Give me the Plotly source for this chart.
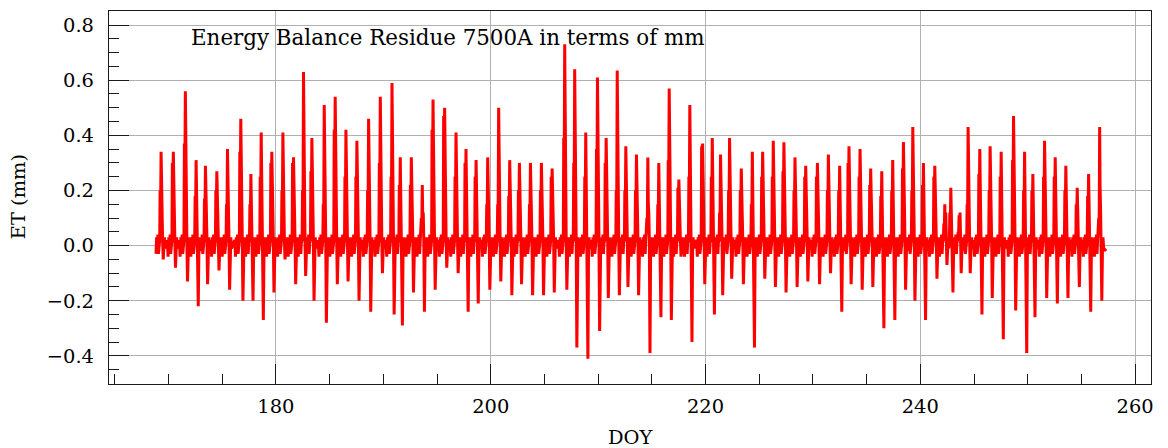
import plotly.graph_objects as go

# ---- data (DOY of daily residue spike, values in mm) ----
peak_doy = [169.31, 170.45, 171.57, 172.57, 173.44, 174.50, 175.49, 176.73, 177.67, 178.63,
            179.62, 180.65, 181.64, 182.57, 183.35, 184.50, 185.52, 186.52, 187.54, 188.63,
            189.72, 190.81, 191.58, 192.61, 193.63, 194.63, 195.71, 196.77, 197.70, 198.64,
            199.72, 200.74, 201.77, 202.67, 203.70, 204.72, 205.72, 206.89, 207.82, 208.85,
            209.94, 210.75, 211.78, 212.58, 213.57, 214.63, 215.65, 216.62, 217.52, 218.54,
            219.73, 220.63, 221.40, 222.24, 223.33, 224.36, 225.32, 226.31, 227.30, 228.33,
            229.33, 230.42, 231.44, 232.49, 233.36, 234.39, 235.38, 236.41, 237.43, 238.43,
            239.30, 240.29, 241.35, 242.28, 242.84, 243.61, 244.45, 245.54, 246.50, 247.53,
            248.68, 249.71, 250.48, 251.57, 252.56, 253.55, 254.61, 255.67, 256.70]
peak_val = [0.34, 0.34, 0.56, 0.31, 0.29, 0.27, 0.35, 0.46, 0.26, 0.41,
            0.34, 0.41, 0.32, 0.63, 0.39, 0.51, 0.54, 0.42, 0.38, 0.46,
            0.54, 0.59, 0.32, 0.32, 0.22, 0.53, 0.50, 0.41, 0.35, 0.31,
            0.32, 0.50, 0.31, 0.30, 0.30, 0.30, 0.28, 0.73, 0.64, 0.41,
            0.61, 0.39, 0.635, 0.36, 0.33, 0.32, 0.30, 0.57, 0.24, 0.51,
            0.37, 0.39, 0.33, 0.39, 0.28, 0.34, 0.34, 0.38, 0.375, 0.32,
            0.29, 0.30, 0.33, 0.29, 0.36, 0.35, 0.28, 0.27, 0.31, 0.376,
            0.43, 0.30, 0.29, 0.15, 0.21, 0.11, 0.43, 0.35, 0.36, 0.34,
            0.47, 0.34, 0.26, 0.38, 0.32, 0.29, 0.21, 0.26, 0.43]
shoulder_val = [0.20, 0.30, 0.37, 0.18, 0.17, 0.20, 0.15, 0.34, 0.15, 0.25,
                0.30, 0.20, 0.30, 0.20, 0.27, 0.15, 0.42, 0.25, 0.25, 0.20,
                0.30, 0.25, 0.22, 0.22, 0.10, 0.42, 0.47, 0.25, 0.30, 0.25,
                0.15, 0.15, 0.18, 0.20, 0.15, 0.20, 0.25, 0.39, 0.30, 0.25,
                0.35, 0.30, 0.20, 0.20, 0.20, 0.10, 0.15, 0.31, 0.21, 0.25,
                0.36, 0.25, 0.12, 0.20, 0.20, 0.15, 0.25, 0.25, 0.27, 0.20,
                0.25, 0.25, 0.20, 0.20, 0.30, 0.25, 0.22, 0.18, 0.20, 0.28,
                0.20, 0.22, 0.25, 0.08, 0.12, 0.05, 0.15, 0.26, 0.20, 0.25,
                0.31, 0.20, 0.20, 0.25, 0.25, 0.20, 0.15, 0.18, 0.10]
trough_val = [-0.05, -0.08, -0.13, -0.22, -0.14, -0.09, -0.16, -0.20, -0.20, -0.27,
              -0.17, -0.05, -0.14, -0.11, -0.20, -0.28, -0.14, -0.13, -0.20, -0.24,
              -0.10, -0.25, -0.29, -0.17, -0.24, -0.16, -0.08, -0.10, -0.24, -0.21,
              -0.16, -0.13, -0.18, -0.14, -0.18, -0.18, -0.17, -0.16, -0.37, -0.41,
              -0.31, -0.19, -0.18, -0.15, -0.18, -0.39, -0.26, -0.27, -0.04, -0.35,
              -0.14, -0.25, -0.18, -0.12, -0.14, -0.37, -0.12, -0.15, -0.17, -0.15,
              -0.13, -0.14, -0.10, -0.24, -0.14, -0.16, -0.15, -0.30, -0.27, -0.16,
              -0.20, -0.27, -0.12, -0.07, -0.17, -0.10, -0.10, -0.25, -0.19, -0.34,
              -0.235, -0.39, -0.26, -0.19, -0.21, -0.19, -0.15, -0.24, -0.20]
night_vals = [0.02, -0.04, 0.03, -0.02, 0.04, -0.03, 0.01]
start_doy, start_val = 168.84, -0.03
end_doy, end_val = 257.30, -0.02

x_ticks = [180, 200, 220, 240, 260]
y_ticks = [-0.4, -0.2, 0.0, 0.2, 0.4, 0.6, 0.8]
y_ticktext = ["\u22120.4", "\u22120.2", "0.0", "0.2", "0.4", "0.6", "0.8"]

# ---- build the sub-daily trace from the daily values ----
night_off = [-0.56, -0.49, -0.42, -0.36, -0.30, -0.25, -0.20]
x, y = [start_doy], [start_val]
for p, pk, sh, tr in zip(peak_doy, peak_val, shoulder_val, trough_val):
    for o, v in zip(night_off, night_vals):
        if p + o > x[-1] + 0.02:
            x.append(p + o)
            y.append(v)
    x += [p - 0.13, p - 0.09, p - 0.05, p, p + 0.04, p + 0.09, p + 0.14,
          p + 0.20, p + 0.26, p + 0.31, p + 0.37]
    y += [0.02, sh, sh * 0.6, pk, pk * 0.5, 0.12, 0.02,
          tr, -0.02, 0.03, -0.01]
x.append(end_doy)
y.append(end_val)

fig = go.Figure()
fig.add_trace(go.Scatter(x=x, y=y, mode="lines",
                         line=dict(color="#ff0000", width=3), hoverinfo="skip"))

FONT = "DejaVu Serif"
axis_common = dict(
    ticks="inside", ticklen=20, tickwidth=1.3, tickcolor="#1a1a1a",
    showline=True, linecolor="#1a1a1a", linewidth=1.3, mirror=True,
    showgrid=True, gridcolor="#b0b0b0", gridwidth=1, zeroline=False,
    tickfont=dict(family=FONT, size=19.44, color="black"),
)
fig.update_xaxes(range=[164.46, 261.48], tickmode="array", tickvals=x_ticks,
                 ticktext=[str(v) for v in x_ticks],
                 minor=dict(dtick=5, tick0=0, ticks="inside", ticklen=10, tickwidth=1.3,
                            tickcolor="#1a1a1a", showgrid=False),
                 ticklabelstandoff=5, **axis_common)
fig.update_yaxes(range=[-0.502, 0.851], tickmode="array", tickvals=y_ticks,
                 ticktext=y_ticktext,
                 minor=dict(dtick=0.05, tick0=0, ticks="inside", ticklen=10, tickwidth=1.3,
                            tickcolor="#1a1a1a", showgrid=False),
                 ticklabelstandoff=10, **axis_common)

# the page body adds an 8 px offset, so the figure is 8 px smaller on each side
fig.update_layout(
    width=1160, height=440,
    margin=dict(l=101, r=17, t=3, b=64, autoexpand=False),
    plot_bgcolor="white", paper_bgcolor="white",
    showlegend=False,
    font=dict(family=FONT, size=19.44, color="black"),
    annotations=[
        dict(text="Energy Balance Residue 7500A in terms of mm", xref="paper", yref="paper",
             x=0.077, y=0.928, xanchor="left", yanchor="middle", showarrow=False,
             font=dict(family=FONT, size=21.4, color="black")),
        dict(text="ET (mm)", xref="paper", yref="paper", x=-0.0872, y=0.501,
             xanchor="center", yanchor="middle", textangle=-90, showarrow=False,
             font=dict(family=FONT, size=19.44, color="black")),
        dict(text="DOY", xref="paper", yref="paper", x=0.5, y=-0.107,
             xanchor="center", yanchor="top", showarrow=False,
             font=dict(family=FONT, size=19.44, color="black")),
    ],
)

fig.write_html("out.html")
